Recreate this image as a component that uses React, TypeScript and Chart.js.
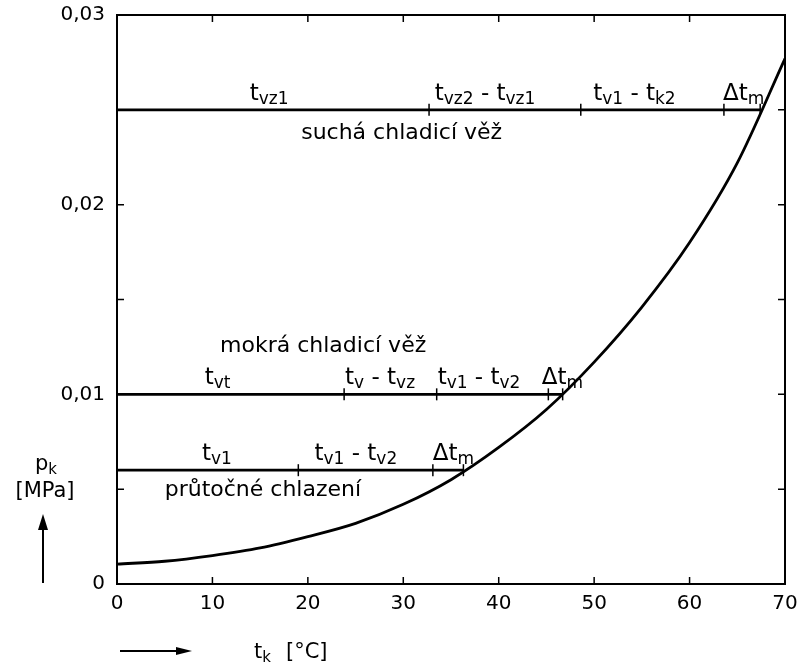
import React, { useEffect, useRef } from "react";
import { Chart, registerables } from "chart.js";

Chart.register(...registerables);

// Saturation pressure curve p_k (MPa) vs t_k (°C)
const curveT = [0, 5, 10, 15, 20, 25, 30, 35, 40, 45, 50, 55, 60, 65, 70];
const curveP = [0.00105, 0.0012, 0.0015, 0.0019, 0.0025, 0.0032, 0.0042, 0.0055, 0.0072, 0.0092, 0.0117, 0.0146, 0.018, 0.0222, 0.0277];

// Horizontal pressure levels and the temperatures marked on them
const dryLevel = 0.025;
const dryMarks = [0, 32.7, 48.6, 63.6, 67.4];
const wetLevel = 0.01;
const wetMarks = [0, 23.8, 33.5, 45.2, 46.7];
const flowLevel = 0.006;
const flowMarks = [0, 19.0, 33.1, 36.3];

// Segment labels (text, temperature where it starts)
const dryLabels = ["t_{vz1}", "t_{vz2} - t_{vz1}", "t_{v1} - t_{k2}", "Δt_{m}"];
const dryLabelT = [13.9, 33.3, 49.9, 63.5];
const wetLabels = ["t_{vt}", "t_{v} - t_{vz}", "t_{v1} - t_{v2}", "Δt_{m}"];
const wetLabelT = [9.2, 23.9, 33.6, 44.5];
const flowLabels = ["t_{v1}", "t_{v1} - t_{v2}", "Δt_{m}"];
const flowLabelT = [8.9, 20.7, 33.1];

const dryName = "suchá chladicí věž";
const wetName = "mokrá chladicí věž";
const flowName = "průtočné chlazení";
const dryNameT = 19.3;
const wetNameT = 10.8;
const flowNameT = 5.0;

const xTicks = [0, 10, 20, 30, 40, 50, 60, 70];
const yTickLabels = ["0", "0,01", "0,02", "0,03"];
const yInnerTicks = [0.005, 0.01, 0.015, 0.02, 0.025];

const FONT = "DejaVu Sans";

function drawRich(ctx: CanvasRenderingContext2D, text: string, x: number, y: number, size: number) {
  const parts: { s: string; sub: boolean }[] = [];
  const re = /_\{([^}]*)\}/g;
  let last = 0;
  let m: RegExpExecArray | null;
  while ((m = re.exec(text)) !== null) {
    if (m.index > last) parts.push({ s: text.slice(last, m.index), sub: false });
    parts.push({ s: m[1], sub: true });
    last = m.index + m[0].length;
  }
  if (last < text.length) parts.push({ s: text.slice(last), sub: false });
  let cx = x;
  ctx.textAlign = "left";
  ctx.textBaseline = "alphabetic";
  for (const p of parts) {
    const fs = p.sub ? Math.round(size * 0.72) : size;
    ctx.font = `${fs}px "${FONT}"`;
    ctx.fillText(p.s, cx, p.sub ? y + 4 : y);
    cx += ctx.measureText(p.s).width;
  }
}

function lineData(marks: number[], level: number) {
  return marks.map((t) => ({ x: t, y: level }));
}

const decorPlugin = {
  id: "decor",
  afterDatasetsDraw(chart: any) {
    const { ctx, chartArea, scales } = chart;
    const xs = scales.x;
    const ys = scales.y;
    ctx.save();
    ctx.strokeStyle = "#000";
    ctx.fillStyle = "#000";
    // frame (top and right)
    ctx.lineWidth = 2;
    ctx.beginPath();
    ctx.moveTo(chartArea.left, chartArea.top);
    ctx.lineTo(chartArea.right, chartArea.top);
    ctx.lineTo(chartArea.right, chartArea.bottom);
    ctx.stroke();
    // inward ticks
    ctx.lineWidth = 1.5;
    ctx.beginPath();
    xTicks.slice(1, -1).forEach((v) => {
      const px = xs.getPixelForValue(v);
      ctx.moveTo(px, chartArea.bottom);
      ctx.lineTo(px, chartArea.bottom - 7);
      ctx.moveTo(px, chartArea.top);
      ctx.lineTo(px, chartArea.top + 7);
    });
    yInnerTicks.forEach((v) => {
      const py = ys.getPixelForValue(v);
      ctx.moveTo(chartArea.left, py);
      ctx.lineTo(chartArea.left + 7, py);
      ctx.moveTo(chartArea.right, py);
      ctx.lineTo(chartArea.right - 7, py);
    });
    ctx.stroke();

    // segment labels
    const groups: [string[], number[], number][] = [
      [dryLabels, dryLabelT, dryLevel],
      [wetLabels, wetLabelT, wetLevel],
      [flowLabels, flowLabelT, flowLevel],
    ];
    groups.forEach(([labels, ts, level]) => {
      const py = ys.getPixelForValue(level);
      labels.forEach((lab, i) => {
        drawRich(ctx, lab, xs.getPixelForValue(ts[i]), py - 10, 23);
      });
    });
    // names
    ctx.font = `22px "${FONT}"`;
    ctx.textAlign = "left";
    ctx.fillText(dryName, xs.getPixelForValue(dryNameT), ys.getPixelForValue(dryLevel) + 29);
    ctx.fillText(wetName, xs.getPixelForValue(wetNameT), ys.getPixelForValue(wetLevel) - 42);
    ctx.fillText(flowName, xs.getPixelForValue(flowNameT), ys.getPixelForValue(flowLevel) + 26);

    // y axis title
    drawRich(ctx, "p_{k}", 35, 470, 21);
    ctx.font = `21px "${FONT}"`;
    ctx.textAlign = "center";
    ctx.fillText("[MPa]", 45, 497);
    ctx.lineWidth = 2;
    ctx.beginPath();
    ctx.moveTo(43, 583);
    ctx.lineTo(43, 528);
    ctx.stroke();
    ctx.beginPath();
    ctx.moveTo(43, 514);
    ctx.lineTo(38, 530);
    ctx.lineTo(48, 530);
    ctx.closePath();
    ctx.fill();

    // x axis title
    ctx.beginPath();
    ctx.moveTo(120, 651);
    ctx.lineTo(178, 651);
    ctx.stroke();
    ctx.beginPath();
    ctx.moveTo(192, 651);
    ctx.lineTo(176, 647);
    ctx.lineTo(176, 655);
    ctx.closePath();
    ctx.fill();
    drawRich(ctx, "t_{k}", 254, 658, 21);
    ctx.font = `21px "${FONT}"`;
    ctx.textAlign = "left";
    ctx.fillText("[°C]", 286, 658);
    ctx.restore();
  },
};

export default function App() {
  const ref = useRef<HTMLCanvasElement | null>(null);
  useEffect(() => {
    if (!ref.current) return;
    const lineDs = (marks: number[], level: number) => ({
      data: lineData(marks, level),
      showLine: true,
      borderColor: "#000",
      borderWidth: 2.8,
      pointStyle: "line",
      rotation: 90,
      pointRadius: marks.map((_, i) => (i === 0 ? 0 : 6)),
      pointBorderColor: "#000",
      pointBackgroundColor: "#000",
      pointBorderWidth: 1.5,
    });
    const chart = new Chart(ref.current, {
      type: "scatter",
      data: {
        datasets: [
          {
            data: curveT.map((t, i) => ({ x: t, y: curveP[i] })),
            showLine: true,
            borderColor: "#000",
            borderWidth: 2.8,
            pointRadius: 0,
            cubicInterpolationMode: "monotone",
          },
          lineDs(dryMarks, dryLevel),
          lineDs(wetMarks, wetLevel),
          lineDs(flowMarks, flowLevel),
        ] as any,
      },
      options: {
        animation: false,
        responsive: false,
        devicePixelRatio: 1,
        layout: { padding: { left: 0, right: 15, top: 15, bottom: 0 } },
        plugins: { legend: { display: false }, tooltip: { enabled: false } },
        scales: {
          x: {
            type: "linear",
            min: 0,
            max: 70,
            afterFit: (s: any) => {
              s.height = 82;
              s.paddingLeft = 0;
              s.paddingRight = 0;
            },
            afterBuildTicks: (s: any) => {
              s.ticks = xTicks.map((v) => ({ value: v }));
            },
            grid: { display: false, drawTicks: false },
            border: { display: true, color: "#000", width: 2 },
            ticks: {
              color: "#000",
              padding: 8,
              font: { family: FONT, size: 20 },
              callback: (v: any) => String(v),
            },
          },
          y: {
            type: "linear",
            min: 0,
            max: 0.03,
            afterFit: (s: any) => {
              s.width = 117;
              s.paddingTop = 0;
              s.paddingBottom = 0;
            },
            afterBuildTicks: (s: any) => {
              s.ticks = yTickLabels.map((_, i) => ({ value: i * 0.01 }));
            },
            grid: { display: false, drawTicks: false },
            border: { display: true, color: "#000", width: 2 },
            ticks: {
              color: "#000",
              padding: 12,
              font: { family: FONT, size: 20 },
              callback: (v: any) => yTickLabels[Math.round(Number(v) / 0.01)],
            },
          },
        },
      },
      plugins: [decorPlugin],
    } as any);
    return () => chart.destroy();
  }, []);
  return (
    <canvas
      ref={ref}
      width={800}
      height={666}
      style={{ position: "fixed", left: 0, top: 0, width: 800, height: 666, background: "#fff" }}
    />
  );
}
